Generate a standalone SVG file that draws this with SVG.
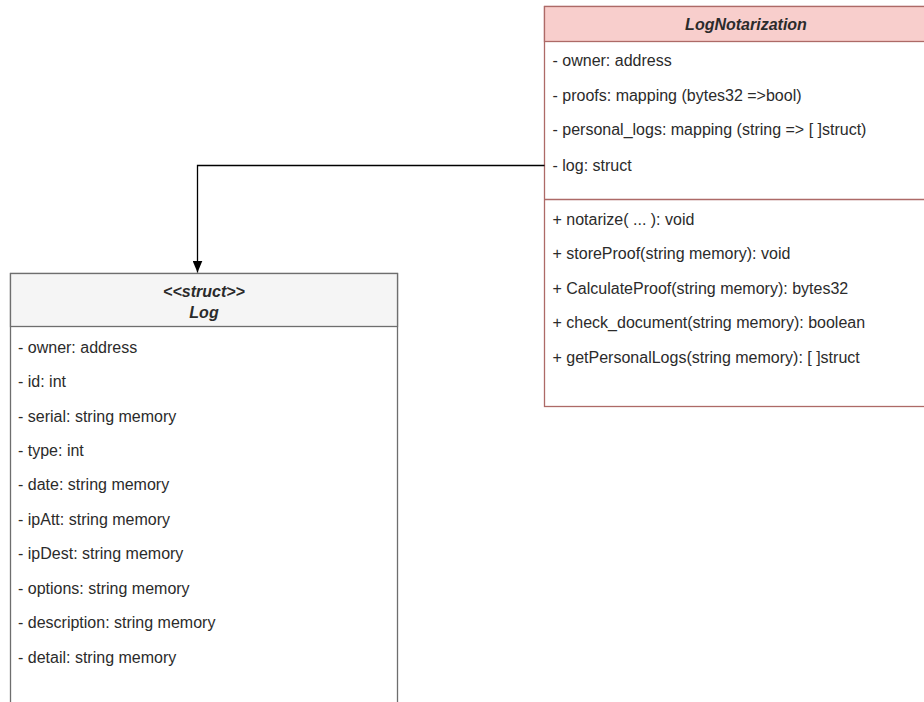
<svg xmlns="http://www.w3.org/2000/svg" width="924" height="702" viewBox="0 0 924 702">
  <defs>
    <marker id="arrow" viewBox="0 0 12 10" refX="12" refY="5" markerWidth="12" markerHeight="10" markerUnits="userSpaceOnUse" orient="auto">
      <path d="M0,0 L12,5 L0,10 Z" fill="#000"/>
    </marker>
    <style>
      text { font-family: "Liberation Sans", Arial, Helvetica, sans-serif; font-size: 16px; fill: #2b2b2b; }
      .title { font-weight: bold; font-style: italic; text-anchor: middle; }
      .red { stroke: #ad6a67; stroke-width: 1.3; }
      .grey { stroke: #6e6e6e; stroke-width: 1.3; }
      .edge { fill: none; stroke: #000; stroke-width: 1.3; }
    </style>
  </defs>
  <rect width="924" height="702" fill="#fff"/>

  <!-- class LogNotarization -->
  <g id="LogNotarization">
    <rect x="544.5" y="6.5" width="403" height="400" fill="#fff" class="red"/>
    <rect x="544.5" y="6.5" width="403" height="35" fill="#f8cecc" class="red"/>
    <line x1="544.5" y1="199.5" x2="947.5" y2="199.5" class="red"/>
    <text x="746" y="30" class="title">LogNotarization</text>
    <text x="552.5" y="66">- owner: address</text>
    <text x="552.5" y="100.5">- proofs: mapping (bytes32 =&gt;bool)</text>
    <text x="552.5" y="135">- personal_logs: mapping (string =&gt; [ ]struct)</text>
    <text x="552.5" y="171">- log: struct</text>
    <text x="552.5" y="224.5">+ notarize( ... ): void</text>
    <text x="552.5" y="259">+ storeProof(string memory): void</text>
    <text x="552.5" y="293.5">+ CalculateProof(string memory): bytes32</text>
    <text x="552.5" y="328">+ check_document(string memory): boolean</text>
    <text x="552.5" y="362.5">+ getPersonalLogs(string memory): [ ]struct</text>
  </g>

  <!-- struct Log -->
  <g id="Log">
    <rect x="10.5" y="273.5" width="387" height="440" fill="#fff" class="grey"/>
    <rect x="10.5" y="273.5" width="387" height="53" fill="#f5f5f5" class="grey"/>
    <text x="204" y="297" class="title">&lt;&lt;struct&gt;&gt;</text>
    <text x="204" y="318" class="title">Log</text>
    <text x="18" y="352.5">- owner: address</text>
    <text x="18" y="387">- id: int</text>
    <text x="18" y="421.5">- serial: string memory</text>
    <text x="18" y="455.5">- type: int</text>
    <text x="18" y="490">- date: string memory</text>
    <text x="18" y="524.5">- ipAtt: string memory</text>
    <text x="18" y="559">- ipDest: string memory</text>
    <text x="18" y="593.5">- options: string memory</text>
    <text x="18" y="628">- description: string memory</text>
    <text x="18" y="662.5">- detail: string memory</text>
  </g>

  <!-- association from the log field to the Log struct -->
  <g id="connectors">
    <path d="M544.5,165.5 H197.5 V272.5" class="edge" marker-end="url(#arrow)"/>
  </g>
</svg>
